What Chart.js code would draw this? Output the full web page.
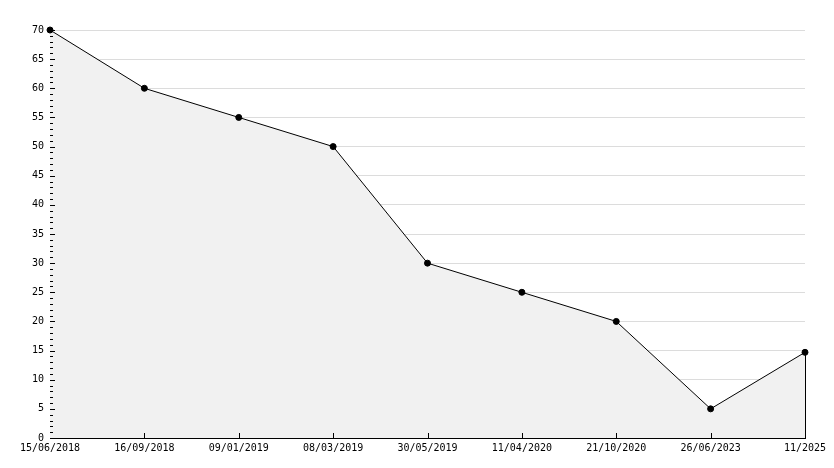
<!DOCTYPE html>
<html>
<head>
<meta charset="utf-8">
<script src="https://cdn.jsdelivr.net/npm/chart.js@4/dist/chart.umd.min.js"></script>
<style>
  body { margin: 0; background: #fff; }
  canvas { display: block; }
</style>
</head>
<body>
<canvas id="grafico" width="834" height="468"></canvas>
<script>
// Dados
const datas = ['15/06/2018', '16/09/2018', '09/01/2019', '08/03/2019', '30/05/2019', '11/04/2020', '21/10/2020', '26/06/2023', '11/2025'];
const valores = [70, 60, 55, 50, 30, 25, 20, 5, 14.7];
const yMin = 0;
const yMax = 70;
const yPasso = 5;

const fonte = { family: 'DejaVu Sans Mono', size: 10 };

// marcas internas nos eixos + linha vertical final
const marcasPlugin = {
    id: 'marcas',
    afterDatasetsDraw(chart){
        const ctx = chart.ctx;
        const area = chart.chartArea;
        const ys = chart.scales.y;
        const xs = chart.scales.x;
        ctx.save();
        ctx.strokeStyle = '#000';
        ctx.lineWidth = 1;
        ctx.beginPath();
        for(let v = yMin; v <= yMax; v++){
            const py = Math.round(ys.getPixelForValue(v)) + 0.5;
            const len = (v % yPasso === 0) ? 5 : 3;
            ctx.moveTo(area.left, py);
            ctx.lineTo(area.left + len, py);
        }
        for(let i = 1; i < datas.length; i++){
            const px = Math.round(xs.getPixelForValue(i)) + 0.5;
            ctx.moveTo(px, area.bottom);
            ctx.lineTo(px, area.bottom - 5);
        }
        const ultimo = datas.length - 1;
        const lx = Math.round(xs.getPixelForValue(ultimo)) + 0.5;
        ctx.moveTo(lx, ys.getPixelForValue(valores[ultimo]));
        ctx.lineTo(lx, area.bottom);
        ctx.stroke();
        ctx.restore();
    }
};

new Chart(document.getElementById('grafico'), {
    type: 'line',
    data: {
        labels: datas,
        datasets: [{
            data: valores,
            borderColor: '#000',
            borderWidth: 1,
            backgroundColor: '#f1f1f1',
            fill: 'origin',
            tension: 0,
            clip: false,
            pointStyle: 'circle',
            pointRadius: 3,
            pointBackgroundColor: '#000',
            pointBorderColor: '#000',
            pointBorderWidth: 1
        }]
    },
    options: {
        responsive: false,
        animation: false,
        layout: { padding: { top: 30, right: 29, left: 0, bottom: 0 } },
        plugins: { legend: { display: false }, tooltip: { enabled: false } },
        scales: {
            x: {
                offset: false,
                grid: { display: false, drawTicks: false },
                border: { display: true, color: '#000', width: 1 },
                ticks: { color: '#000', font: fonte, maxRotation: 0, autoSkip: false, padding: 4 },
                afterFit(scale){ scale.height = 30; }
            },
            y: {
                min: yMin,
                max: yMax,
                grid: { color: '#dcdcdc', drawTicks: false },
                border: { display: true, color: '#000', width: 1 },
                ticks: { stepSize: yPasso, color: '#000', font: fonte, padding: 6 },
                afterFit(scale){ scale.width = 50; }
            }
        }
    },
    plugins: [marcasPlugin]
});
</script>
</body>
</html>
